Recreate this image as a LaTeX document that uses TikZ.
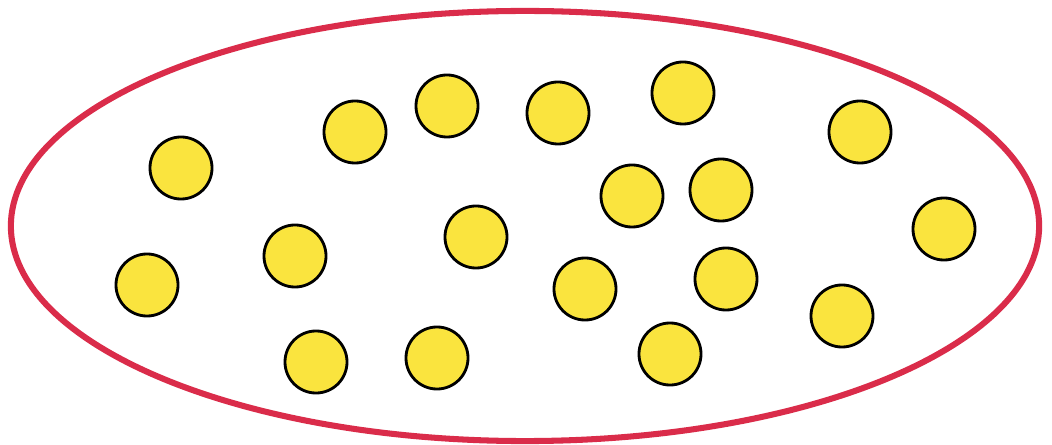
\documentclass[tikz,border=0pt]{standalone}
\usepackage{xcolor}
\usepackage{tikz}
\usetikzlibrary{positioning}
\definecolor{setred}{RGB}{218, 44, 74}
\definecolor{dotyellow}{RGB}{250, 228, 62}
\tikzset{
  dot/.style={circle, draw=black, line width=2pt, fill=dotyellow,
              minimum size=1.55cm, inner sep=0pt}
}

\begin{document}
\begin{tikzpicture}[x=0.025cm, y=-0.025cm]
    \useasboundingbox (0,0) rectangle (1052,445);
    % the set
    \draw[setred, line width=4.3pt] (525,226) ellipse [x radius=12.85cm, y radius=5.375cm];
    % its elements
    \foreach \n/\px/\py in {1/181/168, 2/147/285, 3/355/132, 4/447/106,
                            5/558/113, 6/683/93, 7/860/132, 8/632/196,
                            9/721/190, 10/944/229, 11/295/256, 12/476/237,
                            13/585/289, 14/726/279, 15/842/316, 16/316/362,
                            17/437/358, 18/670/354}
      \node[dot] (e\n) at (\px,\py) {};
  \end{tikzpicture}
\end{document}
